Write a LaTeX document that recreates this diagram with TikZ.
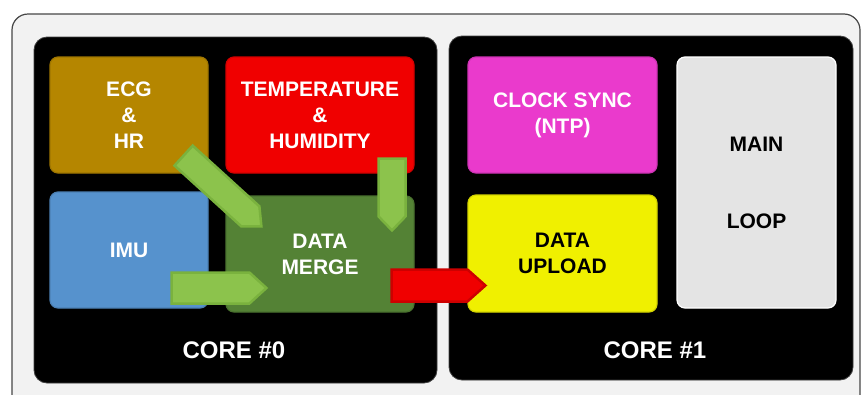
\documentclass[tikz,border=0pt]{standalone}
\usepackage{fontspec}
\setmainfont{Liberation Sans}
\usetikzlibrary{calc}
\definecolor{frameface}{RGB}{242,242,242}
\definecolor{frameedge}{RGB}{70,70,70}
\definecolor{ecgc}{RGB}{181,134,0}
\definecolor{tempc}{RGB}{240,0,0}
\definecolor{imuc}{RGB}{86,146,205}
\definecolor{mergec}{RGB}{84,130,53}
\definecolor{clockc}{RGB}{234,58,204}
\definecolor{uploadc}{RGB}{240,240,0}
\definecolor{mainc}{RGB}{228,228,228}
\definecolor{greenface}{RGB}{140,195,76}
\definecolor{greenedge}{RGB}{122,178,62}
\definecolor{redface}{RGB}{240,0,0}
\definecolor{rededge}{RGB}{205,0,0}
\newcommand{\blockarr}[5]{%
  \coordinate (hb) at ($(#3)!#5!(#2)$);
  \path[#1] ($(#2)!#4!90:(#3)$) -- ($(hb)!#4!-90:(#2)$) -- (#3)
     -- ($(hb)!#4!90:(#2)$) -- ($(#2)!#4!-90:(#3)$) -- cycle;}
\tikzset{
  box/.style={rounded corners=8pt, minimum width=#1, inner sep=0pt, align=center,
    font=\bfseries\fontsize{21}{26}\selectfont, line width=1.2pt},
  core/.style={rounded corners=13pt, fill=black, draw=black!75, line width=0.8pt},
  corelabel/.style={text=white, font=\bfseries\fontsize{24}{28}\selectfont},
  garrow/.style={fill=greenface, draw=greenedge, line width=2.5pt, line join=miter},
  rarrow/.style={fill=redface, draw=rededge, line width=2.5pt, line join=miter},
}
\begin{document}
\begin{tikzpicture}[x=1pt,y=-1pt]
\useasboundingbox (0,0) rectangle (861,394);
\begin{scope}
\clip (0,0) rectangle (861,394);
\draw[fill=frameface, draw=frameedge, line width=1.2pt, rounded corners=16pt] (12,14) rectangle (860,420);
\end{scope}
% cores
\path[core] (34,37) rectangle (437,383);
\path[core] (449,36) rectangle (853,380);
\node[corelabel] (c0) at (234,350) {CORE \#0};
\node[corelabel] (c1) at (655,350) {CORE \#1};
% boxes
\node[box=158pt, minimum height=116pt, fill=ecgc, draw=ecgc!88!black, text=white] (ecg) at (129,115) {ECG\\\&\\HR};
\node[box=188pt, minimum height=116pt, fill=tempc, draw=tempc!88!black, text=white] (temp) at (320,115) {TEMPERATURE\\\&\\HUMIDITY};
\node[box=158pt, minimum height=116pt, fill=imuc, draw=imuc!88!black, text=white] (imu) at (129,250) {IMU};
\node[box=188pt, minimum height=116pt, fill=mergec, draw=mergec!88!black, text=white] (merge) at (320,254) {DATA\\MERGE};
\node[box=189pt, minimum height=116pt, fill=clockc, draw=clockc!88!black, text=white] (clock) at (562.5,115) {CLOCK SYNC\\(NTP)};
\node[box=189pt, minimum height=117pt, fill=uploadc, draw=uploadc!88!black, text=black] (upload) at (562.5,253.5) {DATA\\UPLOAD};
\node[box=159pt, minimum height=251pt, fill=mainc, draw=white, text=black] (main) at (756.5,182.5) {MAIN\\[51pt]LOOP};
% arrows
\coordinate (a1t) at ($(ecg.south east)+(-25,-18)$);
\coordinate (a1h) at ($(merge.north west)+(36,31)$);
\blockarr{garrow}{a1t}{a1h}{13.5pt}{15pt}
\coordinate (a2t) at ($(imu.east)+(-37,38)$);
\coordinate (a2h) at ($(merge.west)+(41,34)$);
\blockarr{garrow}{a2t}{a2h}{15.5pt}{17pt}
\coordinate (a3t) at ($(temp.south)+(72,-15)$);
\coordinate (a3h) at ($(merge.north)+(72,35)$);
\blockarr{garrow}{a3t}{a3h}{13.5pt}{14pt}
\coordinate (a4t) at ($(merge.east)+(-23,31.5)$);
\coordinate (a4h) at ($(upload.west)+(18,32)$);
\blockarr{rarrow}{a4t}{a4h}{16pt}{18pt}
\end{tikzpicture}
\end{document}
